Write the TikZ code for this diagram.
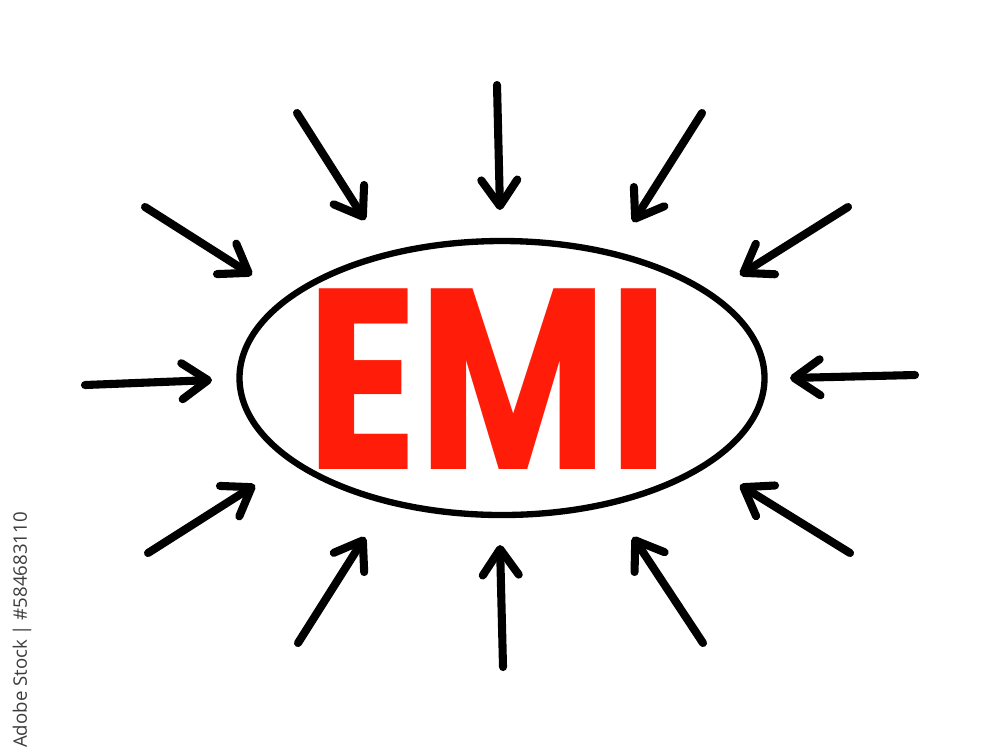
\documentclass[tikz,border=0pt]{standalone}
\usepackage{fontspec}
\usepackage{tikz}
\usetikzlibrary{arrows.meta,shapes.geometric}
\newfontfamily\emifont{Poppins}
\newfontfamily\idfont{Open Sans}
\definecolor{emired}{RGB}{255,28,8}
\definecolor{idgray}{RGB}{60,60,60}

\begin{document}
\begin{tikzpicture}[
    arr/.style={line width=2.3pt,line cap=round,
      -{Straight Barb[length=2.6mm,width=3.6mm,line cap=round,line join=round]}},
    oval/.style={ellipse,draw,line width=1.8pt,minimum width=5.25cm,minimum height=2.74cm}
  ]
    \useasboundingbox (0,0) rectangle (10,7.55);
    \node[oval] (ring) at (5.02,3.77) {};
    \node[text=emired,xscale=0.89,yscale=1.11,font=\emifont\bfseries\fontsize{66}{66}\selectfont] (word) at (4.88,3.76) {EMI};
    \foreach \tx/\ty/\hx/\hy [count=\i] in
      {4.97/6.70/5.00/5.45, 2.97/6.42/3.65/5.35, 7.02/6.42/6.33/5.33,
       1.45/5.48/2.52/4.80, 8.48/5.48/7.40/4.80, 0.85/3.70/2.12/3.75,
       9.15/3.80/7.90/3.77, 1.48/2.02/2.55/2.70, 8.50/2.02/7.40/2.70,
       2.98/1.12/3.65/2.18, 5.03/0.88/5.00/2.10, 7.03/1.12/6.33/2.18}
      {\coordinate (tail\i) at (\tx,\ty);
       \coordinate (head\i) at (\hx,\hy);
       \draw[arr] (tail\i) -- (head\i);}
    \node[rotate=90,text=idgray,font=\idfont\fontsize{5.3}{6}\selectfont] (stockid) at (0.22,1.25) {Adobe Stock | \#584683110};
  \end{tikzpicture}
\end{document}
